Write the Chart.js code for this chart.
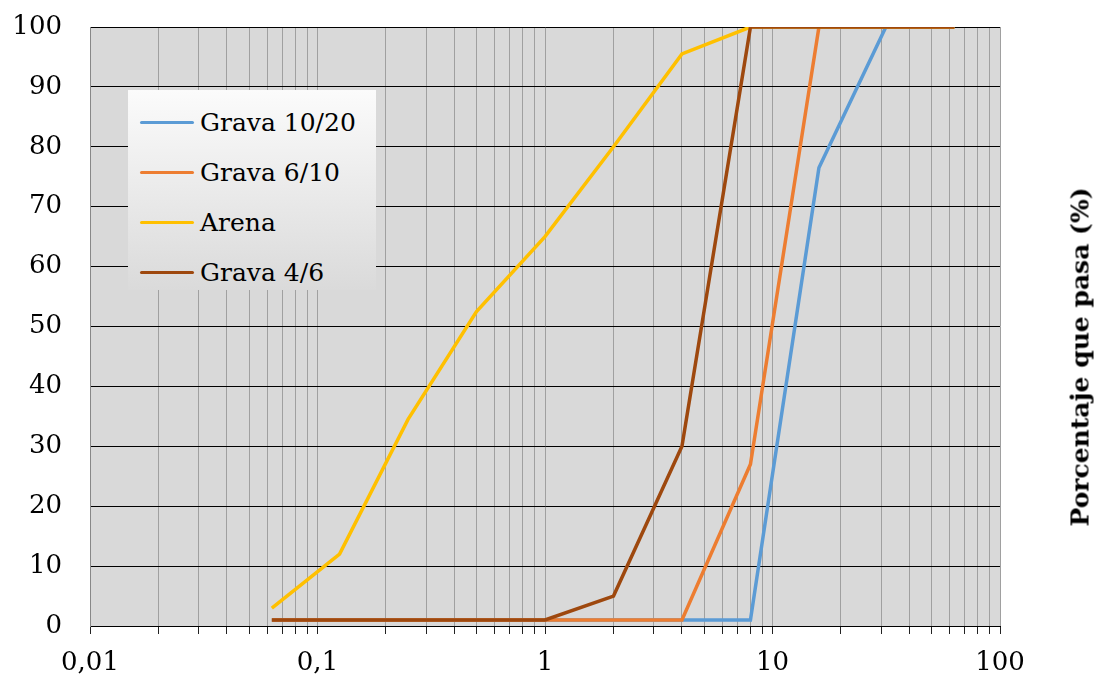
<!DOCTYPE html>
<html>
<head>
<meta charset="utf-8">
<script src="https://cdn.jsdelivr.net/npm/chart.js@4"></script>
<style>
    body { margin: 0; background: #fff; }
    #wrap { position: relative; width: 1098px; height: 680px; }
    #legend {
        position: absolute; left: 128px; top: 90px; width: 248px; height: 200px;
        background: linear-gradient(#fbfbfb, #dadada);
        font-family: 'DejaVu Serif', serif; font-size: 25px; color: #000;
        box-sizing: border-box; padding-top: 7px;
    }
    .item { height: 50px; display: flex; align-items: center; }
    .swatch { width: 54px; height: 3px; margin-left: 12px; margin-right: 6px; border-radius: 2px; }
    #ytitle {
        position: absolute; left: 1080px; top: 357px;
        transform: translate(-50%, -50%) rotate(-90deg);
        font-family: 'DejaVu Serif', serif; font-weight: bold; font-size: 25px;
        white-space: nowrap; color: #000;
    }
</style>
</head>
<body>
<div id="wrap">
    <canvas id="chart" width="1098" height="680"></canvas>
    <div id="legend"></div>
    <div id="ytitle">Porcentaje que pasa (%)</div>
</div>
<script>
// Sieve sizes (mm) and percentage passing for each material
var sizes = [0.063, 0.125, 0.25, 0.5, 1, 2, 4, 8, 16, 31.5, 63];
var grava1020 = [1, 1, 1, 1, 1, 1, 1, 1, 76.5, 100, 100];
var grava610 = [1, 1, 1, 1, 1, 1, 1, 27, 100, 100, 100];
var arena = [3, 12, 34.5, 52.5, 65, 80, 95.5, 100, 100, 100, 100];
var grava46 = [1, 1, 1, 1, 1, 5, 30, 100, 100, 100, 100];

var seriesNames = ["Grava 10/20", "Grava 6/10", "Arena", "Grava 4/6"];
var seriesColors = ["#5b9bd5", "#ed7d31", "#ffc000", "#9e480e"];

// x axis decades and their labels
var xDecades = [0.01, 0.1, 1, 10, 100];
var xTickLabels = ["0,01", "0,1", "1", "10", "100"];
var yTicks = [0, 10, 20, 30, 40, 50, 60, 70, 80, 90, 100];

function toPoints(values) {
    return values.map(function (v, i) { return { x: sizes[i], y: v }; });
}

var allSeries = [grava1020, grava610, arena, grava46];
var datasets = allSeries.map(function (vals, i) {
    return {
        label: seriesNames[i],
        data: toPoints(vals),
        borderColor: seriesColors[i],
        backgroundColor: seriesColors[i],
        borderWidth: 3.5,
        pointRadius: 0,
        tension: 0,
        fill: false,
        // later series are drawn on top
        order: allSeries.length - i
    };
});

// legend in the plot area
var legend = document.getElementById("legend");
seriesNames.forEach(function (name, i) {
    var item = document.createElement("div");
    item.className = "item";
    item.innerHTML = '<span class="swatch" style="background:' + seriesColors[i] + '"></span>' + name;
    legend.appendChild(item);
});

var plotBg = {
    id: "plotBg",
    beforeDraw: function (chart) {
        var a = chart.chartArea, ctx = chart.ctx;
        ctx.save();
        ctx.fillStyle = "#d9d9d9";
        ctx.fillRect(a.left, a.top, a.right - a.left, a.bottom - a.top);
        ctx.restore();
    }
};

Chart.defaults.font.family = "'DejaVu Serif', serif";
Chart.defaults.font.size = 26;
Chart.defaults.color = "#000";

new Chart(document.getElementById("chart"), {
    type: "line",
    data: { datasets: datasets },
    plugins: [plotBg],
    options: {
        responsive: false,
        animation: false,
        layout: { padding: { left: 0, right: 98, top: 27, bottom: 0 } },
        plugins: { legend: { display: false }, tooltip: { enabled: false } },
        scales: {
            x: {
                type: "logarithmic",
                min: 0.01,
                max: 100,
                afterBuildTicks: function (scale) {
                    var t = [];
                    for (var d = 0; d < xDecades.length; d++) {
                        if (d === xDecades.length - 1) { t.push({ value: xDecades[d] }); break; }
                        for (var k = 1; k <= 9; k++) t.push({ value: xDecades[d] * k });
                    }
                    scale.ticks = t;
                },
                afterFit: function (scale) { scale.height = 54; },
                ticks: {
                    autoSkip: false,
                    maxRotation: 0,
                    padding: 14,
                    callback: function (value) {
                        var idx = xDecades.findIndex(function (d) { return Math.abs(d - value) < d * 1e-6; });
                        return idx >= 0 ? xTickLabels[idx] : "";
                    }
                },
                grid: { color: "#a0a0a0", lineWidth: 1, tickLength: 8, tickColor: "#222" },
                border: { color: "#000", width: 1 }
            },
            y: {
                min: 0,
                max: 100,
                afterBuildTicks: function (scale) {
                    scale.ticks = yTicks.map(function (v) { return { value: v }; });
                },
                afterFit: function (scale) {
                    scale.width = 90;
                    scale.paddingTop = 0;
                    scale.paddingBottom = 0;
                },
                ticks: { padding: 28 },
                grid: { color: "#000", lineWidth: 1, drawTicks: false },
                border: { color: "#888", width: 1 }
            }
        }
    }
});
</script>
</body>
</html>
